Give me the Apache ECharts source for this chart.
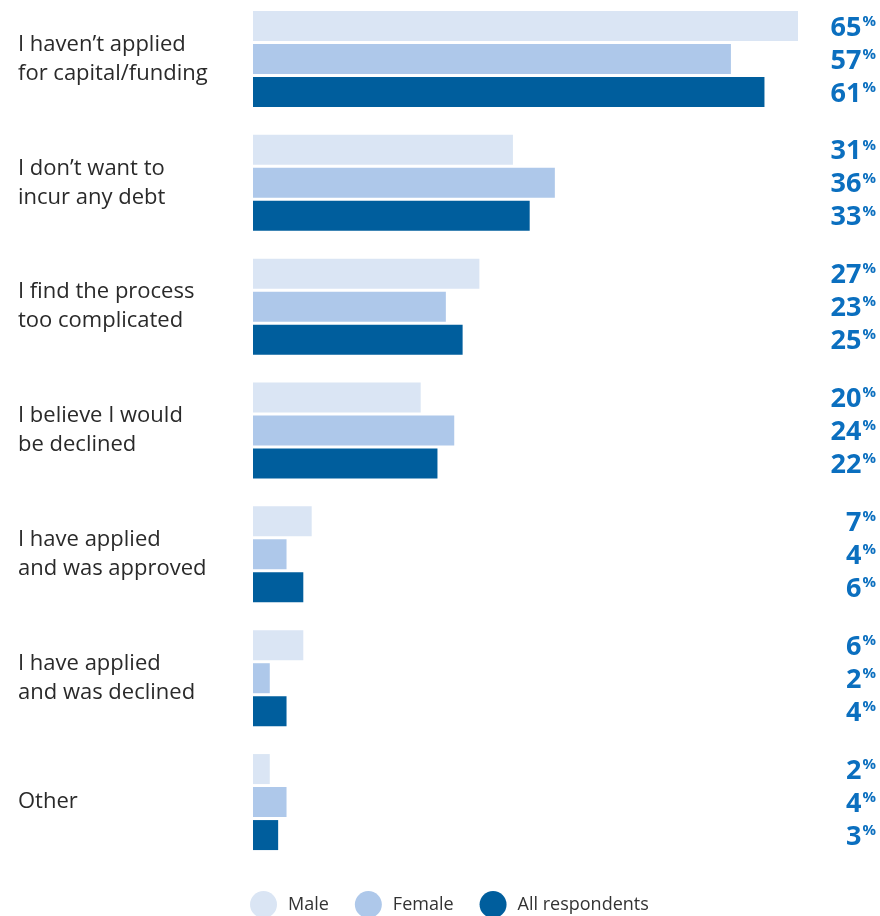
<!DOCTYPE html>
<html>
<head>
<meta charset="utf-8">
<script src="https://cdn.jsdelivr.net/npm/echarts@6/dist/echarts.min.js"></script>
<style>
  html, body { margin: 0; padding: 0; background: #fff; }
  #main { width: 880px; height: 916px; }
</style>
</head>
<body>
<div id="main"></div>
<script>
const categories = [
  "I haven\u2019t applied\nfor capital/funding",
  "I don\u2019t want to\nincur any debt",
  "I find the process\ntoo complicated",
  "I believe I would\nbe declined",
  "I have applied\nand was approved",
  "I have applied\nand was declined",
  "Other"
];
const male = [65, 31, 27, 20, 7, 6, 2];
const female = [57, 36, 23, 24, 4, 2, 4];
const allRespondents = [61, 33, 25, 22, 6, 4, 3];

const colors = ['#dae5f4', '#aec8ea', '#005e9d'];
const font = '"Open Sans", "Noto Sans", sans-serif';

const chart = echarts.init(document.getElementById('main'));

function makeSeries(name, data, color) {
  return {
    name: name,
    type: 'bar',
    data: data,
    barWidth: 30,
    barGap: '10%',
    itemStyle: { color: color },
    label: {
      show: true,
      position: 'right',
      formatter: p => '{v|' + p.value + '}{p|%}',
      rich: {
        v: { fontFamily: font, fontWeight: 'bold', fontSize: 27, lineHeight: 28, color: '#0b6fbf' },
        p: { fontFamily: font, fontWeight: 'bold', fontSize: 15, lineHeight: 26, color: '#0b6fbf', verticalAlign: 'top', padding: [0, 0, 0, 1] }
      }
    },
    labelLayout: () => ({ x: chart.getWidth() - 4, align: 'right', verticalAlign: 'middle', dy: 2 }),
    emphasis: { disabled: true },
    animation: false
  };
}

chart.setOption({
  animation: false,
  grid: { left: 253, width: 545, top: -3, height: 867, outerBoundsMode: 'none' },
  legend: {
    left: 250,
    bottom: -2,
    padding: 0,
    icon: 'circle',
    itemWidth: 27,
    itemHeight: 27,
    itemGap: 26,
    textStyle: { fontFamily: font, fontSize: 18, color: '#333', padding: [0, 0, 0, 6] },
    data: ['Male', 'Female', 'All respondents']
  },
  xAxis: {
    type: 'value',
    min: 0,
    max: 65,
    show: false
  },
  yAxis: {
    type: 'category',
    inverse: true,
    data: categories,
    axisLine: { show: false },
    axisTick: { show: false },
    axisLabel: {
      align: 'left',
      margin: 235,
      fontFamily: font,
      fontSize: 22,
      lineHeight: 29,
      color: '#2a2a2a'
    }
  },
  series: [
    makeSeries('Male', male, colors[0]),
    makeSeries('Female', female, colors[1]),
    makeSeries('All respondents', allRespondents, colors[2])
  ]
});
</script>
</body>
</html>
